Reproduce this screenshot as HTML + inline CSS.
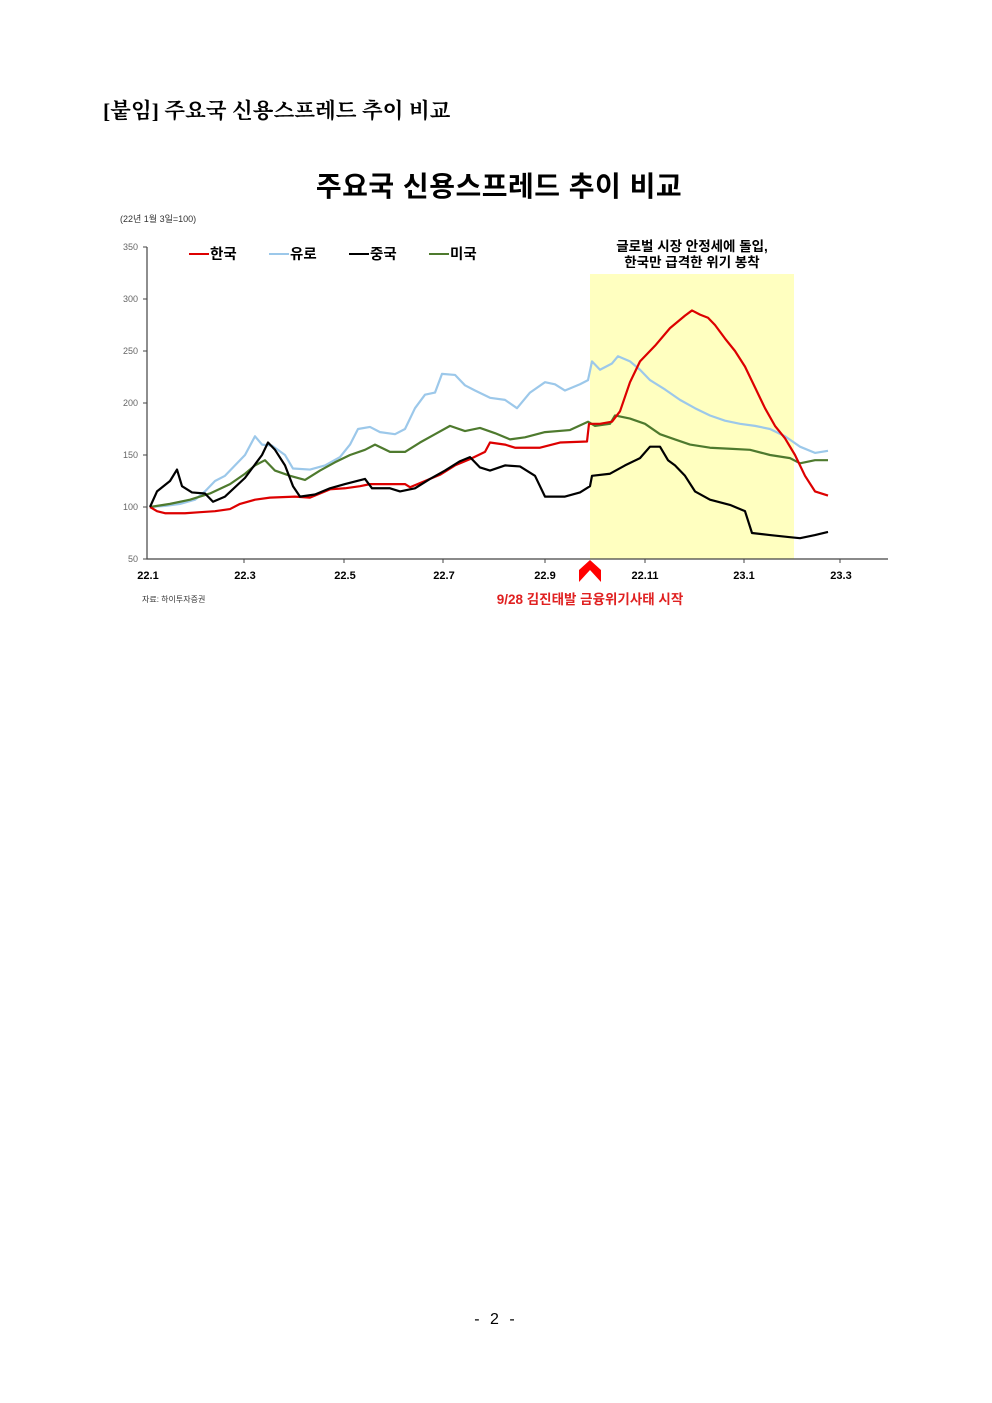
<!DOCTYPE html>
<html><head><meta charset="utf-8"><style>
body{margin:0;background:#fff;}
.pg{position:relative;width:992px;height:1403px;overflow:hidden;font-family:"Liberation Sans","Noto Sans CJK KR",sans-serif;}
.t{position:absolute;white-space:nowrap;}
</style></head><body><div class="pg">
<div class="t" style="left:103px;top:94px;font-size:21.5px;font-weight:bold;font-family:'Liberation Serif','Noto Serif CJK SC',serif;">[붙임] 주요국 신용스프레드 추이 비교</div>
<div class="t" style="left:0;width:998px;text-align:center;top:165px;font-size:28px;font-weight:bold;letter-spacing:0.5px;">주요국 신용스프레드 추이 비교</div>
<svg width="992" height="700" style="position:absolute;left:0;top:0" font-family="Liberation Sans, Noto Sans CJK KR, sans-serif">
<rect x="590" y="274" width="204" height="285" fill="#ffffc0"/>
<text x="120" y="222" font-size="9" fill="#333">(22년 1월 3일=100)</text>
<g font-size="9" fill="#666" text-anchor="end">
<text x="138" y="250">350</text><text x="138" y="302">300</text><text x="138" y="354">250</text><text x="138" y="406">200</text><text x="138" y="458">150</text><text x="138" y="510">100</text><text x="138" y="562">50</text></g>
<path d="M147 247V559H888" stroke="#444" fill="none" stroke-width="1.2"/>
<g stroke="#444"><path d="M143 247h4M143 299h4M143 351h4M143 403h4M143 455h4M143 507h4M143 559h4M244 559v4M344 559v4M443 559v4M545 559v4M645 559v4M744 559v4M840 559v4"/></g>
<g font-size="11" font-weight="bold" text-anchor="middle">
<text x="148" y="579">22.1</text><text x="245" y="579">22.3</text><text x="345" y="579">22.5</text><text x="444" y="579">22.7</text><text x="545" y="579">22.9</text><text x="645" y="579">22.11</text><text x="744" y="579">23.1</text><text x="841" y="579">23.3</text></g>
<text x="142" y="602" font-size="8" fill="#333">자료: 하이투자증권</text>
<text x="590" y="604" font-size="13.5" font-weight="bold" fill="#e02020" text-anchor="middle">9/28 김진태발 금융위기사태 시작</text>
<path d="M579 582L590 570L601 582L601 570L590 560L579 570Z" fill="#f00"/>
<g font-size="13.5" font-weight="bold" text-anchor="middle"><text x="692" y="251">글로벌 시장 안정세에 돌입,</text><text x="692" y="267">한국만 급격한 위기 봉착</text></g>
<g font-size="14.5" font-weight="bold">
<line x1="189" y1="254" x2="209" y2="254" stroke="#d00" stroke-width="2"/><text x="210" y="259">한국</text>
<line x1="269" y1="254" x2="289" y2="254" stroke="#9cc8ea" stroke-width="2"/><text x="290" y="259">유로</text>
<line x1="349" y1="254" x2="369" y2="254" stroke="#000" stroke-width="2"/><text x="370" y="259">중국</text>
<line x1="429" y1="254" x2="449" y2="254" stroke="#4e7a2e" stroke-width="2"/><text x="450" y="259">미국</text></g>
<g transform="matrix(1 0 0 -1.04 0 611)" fill="none" stroke-width="2.2" stroke-linejoin="round">
<polyline vector-effect="non-scaling-stroke" stroke="#9cc8ea" points="150,100 165,101 180,103 195,107 205,115 215,125 225,130 235,140 245,150 255,168 262,160 272,159 285,150 293,137 310,136 325,140 340,148 350,160 358,175 370,177 380,172 395,170 405,175 415,195 425,208 435,210 442,228 455,227 465,217 475,212 490,205 505,203 517,195 530,210 545,220 555,218 565,212 580,218 588,222 592,240 600,232 612,238 618,245 630,240 640,232 650,222 665,213 680,203 695,195 710,188 725,183 740,180 755,178 770,175 785,168 800,158 815,152 828,154"/>
<polyline vector-effect="non-scaling-stroke" stroke="#4e7a2e" points="150,100 170,103 190,107 210,113 230,122 245,132 255,140 265,145 275,135 290,130 305,126 320,135 335,143 350,150 365,155 375,160 390,153 405,153 420,162 435,170 450,178 465,173 480,176 495,171 510,165 525,167 545,172 570,174 588,182 595,178 610,180 615,188 630,185 645,180 660,170 675,165 690,160 710,157 730,156 750,155 770,150 790,147 800,142 815,145 828,145"/>
<polyline vector-effect="non-scaling-stroke" stroke="#d00" points="150,100 157,96 165,94 185,94 200,95 215,96 230,98 240,103 255,107 270,109 295,110 310,109 330,117 345,118 360,120 370,122 405,122 410,119 425,125 440,131 455,140 470,146 485,153 490,162 505,160 515,157 540,157 560,162 587,163 589,180 600,180 612,182 620,192 630,220 640,240 655,255 670,272 685,284 692,289 700,285 708,282 715,275 725,262 735,250 745,235 755,215 765,195 775,178 785,166 795,150 805,130 815,115 828,111"/>
<polyline vector-effect="non-scaling-stroke" stroke="#000" points="150,100 157,115 170,125 177,136 182,120 192,114 205,113 213,105 225,110 245,128 262,150 268,162 275,155 285,140 293,120 300,110 315,112 330,118 345,122 365,127 372,118 390,118 400,115 415,118 430,127 445,135 460,144 470,148 480,138 490,135 505,140 520,139 535,130 545,110 565,110 580,114 590,120 592,130 610,132 625,140 640,147 650,158 660,158 668,145 675,140 685,130 695,115 710,107 730,102 745,96 752,75 770,73 790,71 800,70 815,73 828,76"/>
</g>
</svg>
<div class="t" style="left:0;width:992px;text-align:center;top:1311px;font-size:16px;letter-spacing:3px;">- 2 -</div>
</div></body></html>
